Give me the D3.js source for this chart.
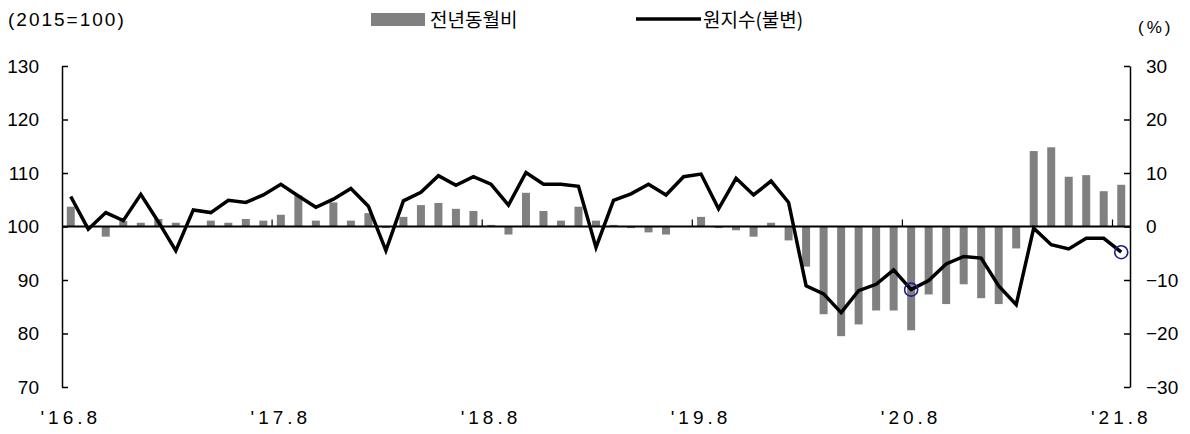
<!DOCTYPE html>
<html>
<head>
  <meta charset="utf-8">
  <script src="https://d3js.org/d3.v7.min.js"></script>
  <style>
    body { margin: 0; background: #fff; }
    text { font-family: "Liberation Sans", Arial, sans-serif; }
    .kr { font-family: "Noto Sans CJK KR", sans-serif; }
  </style>
</head>
<body>
  <svg width="1190" height="434"></svg>

  <script>
    // months 2016.8 ~ 2021.8
    const months = [];
    for (let y = 2016, m = 8; !(y === 2021 && m > 8); m++) {
      if (m > 12) { m = 1; y++; }
      months.push(y + "." + m);
    }

    // 원지수(불변), 2015=100
    const index = [
      105.6, 99.5, 102.6, 101.1, 106.0, 100.9, 95.5, 103.1, 102.6, 104.9,
      104.5, 105.9, 107.9, 105.7, 103.6, 105.1, 107.1, 103.8, 95.5, 104.8,
      106.4, 109.5, 107.7, 109.3, 107.9, 104.0, 110.1, 107.9, 107.9, 107.5,
      96.1, 104.9, 106.1, 107.9, 105.9, 109.3, 109.8, 103.3, 109.0, 105.9,
      108.5, 104.5, 88.9, 87.4, 83.9, 88.0, 89.2, 91.9, 88.2, 89.9,
      93.0, 94.4, 94.1, 88.9, 85.4, 99.7, 96.6, 95.8, 97.8, 97.8,
      95.2
    ];

    // 전년동월비, %
    const yoy = [
      3.7, 0.0, -1.9, 1.0, 0.7, 1.4, 0.7, 0.0, 1.1, 0.7,
      1.4, 1.1, 2.2, 5.8, 1.1, 4.5, 1.1, 2.5, -0.3, 1.8,
      4.0, 4.4, 3.3, 2.9, 0.3, -1.5, 6.3, 2.9, 1.1, 3.7,
      1.1, 0.3, -0.3, -1.1, -1.5, 0.0, 1.8, -0.3, -0.7, -1.9,
      0.7, -2.6, -7.5, -16.4, -20.5, -18.3, -15.7, -15.7, -19.4, -12.7,
      -14.5, -10.8, -13.4, -14.5, -4.1, 14.1, 14.8, 9.3, 9.6, 6.6,
      7.8
    ];

    const tickMonths = ["2016.8", "2017.8", "2018.8", "2019.8", "2020.8", "2021.8"];
    const tickLabels = ["'16.8", "'17.8", "'18.8", "'19.8", "'20.8", "'21.8"];
    const leftTicks = [70, 80, 90, 100, 110, 120, 130];
    const rightTicks = [-30, -20, -10, 0, 10, 20, 30];
    const marked = ["2020.8", "2021.8"];

    const svg = d3.select("svg");
    const plotL = 62, plotR = 1130, plotT = 66, plotB = 387;

    const x = d3.scaleBand().domain(months).range([plotL, plotR]);
    const yL = d3.scaleLinear().domain([70, 130]).range([plotB, plotT]);
    const yR = d3.scaleLinear().domain([-30, 30]).range([plotB, plotT]);
    const bw = 8;
    const cx = d => x(d) + x.bandwidth() / 2;

    // bars
    svg.append("g").selectAll("rect")
      .data(months)
      .join("rect")
      .attr("x", (d) => cx(d) - bw / 2)
      .attr("width", bw)
      .attr("y", (d, i) => yR(Math.max(0, yoy[i])))
      .attr("height", (d, i) => Math.abs(yR(yoy[i]) - yR(0)))
      .attr("fill", "#808080");

    // zero axis
    svg.append("line")
      .attr("x1", plotL).attr("x2", plotR)
      .attr("y1", yR(0)).attr("y2", yR(0))
      .attr("stroke", "#000").attr("stroke-width", 2);

    // small ticks on zero line at year boundaries
    svg.append("g").selectAll("line")
      .data(tickMonths.slice(1))
      .join("line")
      .attr("x1", d => x(d)).attr("x2", d => x(d))
      .attr("y1", yR(0)).attr("y2", yR(0) - 7)
      .attr("stroke", "#000").attr("stroke-width", 1.2);

    // left axis
    const gl = svg.append("g").attr("transform", `translate(${plotL},0)`)
      .call(d3.axisLeft(yL).tickValues(leftTicks).tickSizeInner(-6).tickSizeOuter(0).tickPadding(23));
    gl.select(".domain").attr("stroke-width", 1.5);
    gl.selectAll(".tick line").attr("stroke-width", 1.5);
    gl.selectAll("text").attr("font-size", 19).attr("fill", "#000");

    // right axis
    const gr = svg.append("g").attr("transform", `translate(${plotR},0)`)
      .call(d3.axisRight(yR).tickValues(rightTicks).tickSizeInner(-6).tickSizeOuter(0).tickPadding(16)
        .tickFormat(d => d < 0 ? "\u2212" + Math.abs(d) : d));
    gr.select(".domain").attr("stroke-width", 1.5);
    gr.selectAll(".tick line").attr("stroke-width", 1.5);
    gr.selectAll("text").attr("font-size", 19).attr("fill", "#000");

    // x labels
    svg.append("g").selectAll("text")
      .data(tickMonths)
      .join("text")
      .attr("x", d => cx(d))
      .attr("y", 424)
      .attr("text-anchor", "middle")
      .attr("font-size", 19)
      .attr("letter-spacing", 4)
      .text((d, i) => tickLabels[i]);

    // line
    const line = d3.line()
      .x(d => cx(d))
      .y(d => yL(index[months.indexOf(d)]));
    svg.append("path")
      .datum(months)
      .attr("fill", "none")
      .attr("stroke", "#000")
      .attr("stroke-width", 3.5)
      .attr("d", line);

    // circles
    svg.append("g").selectAll("circle")
      .data(marked)
      .join("circle")
      .attr("cx", d => cx(d))
      .attr("cy", d => yL(index[months.indexOf(d)]))
      .attr("r", 6.5)
      .attr("fill", "none")
      .attr("stroke", "#1c1c8a")
      .attr("stroke-width", 1.6);

    // unit labels
    svg.append("text").attr("x", 8).attr("y", 26).attr("font-size", 19).attr("letter-spacing", 2).text("(2015=100)");
    svg.append("text").attr("x", 1138).attr("y", 33).attr("font-size", 17).attr("letter-spacing", 3).text("(%)");

    // legend
    svg.append("rect").attr("x", 371).attr("y", 13).attr("width", 54).attr("height", 13).attr("fill", "#808080");
    svg.append("text").attr("class", "kr").attr("x", 430).attr("y", 27).attr("font-size", 19).text("전년동월비");
    svg.append("line").attr("x1", 636).attr("x2", 701).attr("y1", 19).attr("y2", 19)
      .attr("stroke", "#000").attr("stroke-width", 3.5);
    svg.append("text").attr("class", "kr").attr("x", 703).attr("y", 27).attr("font-size", 19).text("원지수(불변)");
  </script>
</body>
</html>
